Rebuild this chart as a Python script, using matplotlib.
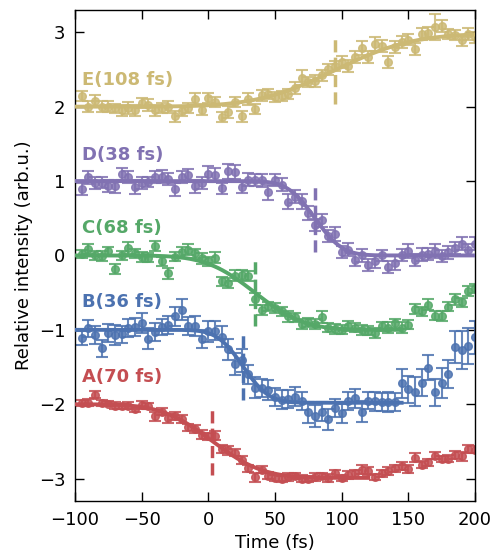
import math

import numpy as np
import matplotlib
matplotlib.use('Agg')
import matplotlib.pyplot as plt

# delay axis (fs)
t = np.arange(-95, 201, 5)

A_y = [-1.98, -1.98, -1.87, -1.98, -1.99, -2.02, -2.03, -2.02, -2.06, -2.01,
       -2.02, -2.16, -2.10, -2.19, -2.16, -2.20, -2.31, -2.33, -2.41, -2.43,
       -2.42, -2.60, -2.62, -2.65, -2.75, -2.86, -2.98, -2.88, -2.96, -2.99,
       -3.00, -2.98, -2.96, -3.00, -3.01, -2.98, -2.97, -2.99, -2.93, -2.99,
       -2.95, -2.93, -2.88, -2.90, -2.98, -2.93, -2.90, -2.86, -2.83, -2.87,
       -2.72, -2.81, -2.78, -2.69, -2.73, -2.73, -2.68, -2.70, -2.60, -2.61]
A_err = [0.04, 0.05, 0.05, 0.04, 0.04, 0.05, 0.04, 0.05, 0.04, 0.05,
         0.04, 0.06, 0.05, 0.06, 0.05, 0.05, 0.05, 0.05, 0.06, 0.05,
         0.06, 0.05, 0.06, 0.05, 0.05, 0.05, 0.06, 0.05, 0.05, 0.04,
         0.04, 0.05, 0.04, 0.05, 0.04, 0.05, 0.04, 0.05, 0.05, 0.04,
         0.05, 0.05, 0.06, 0.05, 0.04, 0.05, 0.05, 0.05, 0.05, 0.05,
         0.06, 0.05, 0.05, 0.05, 0.04, 0.05, 0.05, 0.06, 0.05, 0.05]

B_y = [-1.11, -0.98, -1.07, -1.25, -1.04, -1.07, -1.06, -0.98, -0.96, -0.91,
       -1.12, -1.03, -0.96, -0.93, -0.82, -0.73, -0.95, -0.95, -1.12, -1.02,
       -1.01, -1.09, -1.26, -1.46, -1.41, -1.60, -1.78, -1.78, -1.81, -1.90,
       -1.94, -1.93, -1.90, -1.96, -2.11, -2.16, -2.10, -2.20, -2.05, -2.12,
       -1.96, -1.92, -2.10, -1.95, -1.96, -1.97, -1.97, -1.97, -1.72, -1.80,
       -1.83, -1.71, -1.51, -1.84, -1.71, -1.59, -1.23, -1.27, -1.22, -1.10]
B_err = [0.10, 0.11, 0.12, 0.11, 0.12, 0.13, 0.11, 0.12, 0.12, 0.13,
         0.14, 0.12, 0.11, 0.12, 0.13, 0.14, 0.12, 0.13, 0.12, 0.14,
         0.13, 0.14, 0.14, 0.15, 0.15, 0.13, 0.14, 0.12, 0.13, 0.12,
         0.13, 0.12, 0.13, 0.12, 0.14, 0.15, 0.13, 0.14, 0.12, 0.13,
         0.12, 0.13, 0.14, 0.12, 0.13, 0.12, 0.13, 0.12, 0.20, 0.18,
         0.19, 0.18, 0.17, 0.18, 0.20, 0.19, 0.22, 0.25, 0.24, 0.22]

C_y = [0.02, 0.09, 0.00, -0.01, 0.06, -0.18, 0.00, 0.10, 0.03, -0.02,
       -0.03, 0.13, -0.08, -0.24, -0.02, 0.04, 0.08, 0.03, -0.04, -0.08,
       -0.03, -0.35, -0.37, -0.27, -0.26, -0.28, -0.59, -0.73, -0.68, -0.71,
       -0.75, -0.82, -0.83, -0.92, -0.90, -0.92, -0.83, -0.97, -0.99, -1.00,
       -0.95, -0.97, -1.00, -1.01, -1.04, -0.95, -0.97, -0.91, -0.97, -0.93,
       -0.72, -0.75, -0.66, -0.81, -0.81, -0.69, -0.59, -0.63, -0.48, -0.44]
C_err = [0.06, 0.07, 0.06, 0.07, 0.06, 0.07, 0.06, 0.08, 0.06, 0.07,
         0.06, 0.07, 0.06, 0.07, 0.06, 0.07, 0.07, 0.06, 0.07, 0.06,
         0.07, 0.06, 0.07, 0.08, 0.07, 0.07, 0.08, 0.07, 0.06, 0.07,
         0.06, 0.07, 0.06, 0.07, 0.06, 0.07, 0.08, 0.06, 0.07, 0.06,
         0.07, 0.06, 0.07, 0.06, 0.07, 0.06, 0.07, 0.06, 0.07, 0.06,
         0.07, 0.06, 0.07, 0.06, 0.07, 0.06, 0.07, 0.06, 0.07, 0.06]

D_y = [0.89, 1.05, 0.97, 0.98, 0.93, 0.93, 1.10, 1.06, 0.92, 0.97,
       0.99, 1.06, 1.06, 1.03, 0.89, 1.06, 1.08, 0.93, 0.97, 1.10,
       1.08, 0.90, 1.13, 1.12, 0.92, 1.02, 1.01, 1.01, 0.85, 1.02,
       0.95, 0.72, 0.79, 0.73, 0.57, 0.41, 0.47, 0.26, 0.29, 0.05,
       0.08, -0.06, 0.00, -0.13, -0.08, 0.00, -0.15, -0.10, 0.01, 0.06,
       -0.06, 0.01, 0.02, 0.06, -0.01, 0.04, 0.10, 0.16, 0.08, 0.16]
D_err = [0.08, 0.09, 0.08, 0.07, 0.08, 0.09, 0.08, 0.08, 0.09, 0.08,
         0.07, 0.08, 0.09, 0.08, 0.09, 0.08, 0.08, 0.09, 0.08, 0.10,
         0.09, 0.08, 0.10, 0.09, 0.08, 0.09, 0.08, 0.09, 0.10, 0.08,
         0.09, 0.10, 0.09, 0.10, 0.09, 0.08, 0.09, 0.08, 0.09, 0.08,
         0.09, 0.08, 0.09, 0.08, 0.09, 0.08, 0.08, 0.09, 0.08, 0.09,
         0.08, 0.09, 0.08, 0.09, 0.08, 0.09, 0.08, 0.09, 0.08, 0.09]

E_y = [2.14, 2.00, 2.08, 2.00, 2.00, 1.98, 1.95, 1.98, 1.95, 2.05,
       2.02, 1.95, 1.98, 1.99, 1.87, 1.94, 1.98, 2.10, 1.96, 2.12,
       2.06, 1.86, 1.93, 2.06, 1.87, 2.10, 1.97, 2.15, 2.17, 2.13,
       2.14, 2.17, 2.25, 2.39, 2.33, 2.35, 2.42, 2.50, 2.55, 2.60,
       2.55, 2.67, 2.79, 2.67, 2.84, 2.82, 2.60, 2.80, 2.87, 2.90,
       2.78, 2.98, 2.99, 3.07, 3.09, 2.98, 2.96, 2.89, 2.98, 2.93]
E_err = [0.07, 0.07, 0.08, 0.07, 0.07, 0.06, 0.07, 0.08, 0.07, 0.07,
         0.08, 0.07, 0.07, 0.08, 0.07, 0.07, 0.07, 0.08, 0.07, 0.07,
         0.07, 0.07, 0.08, 0.07, 0.07, 0.08, 0.07, 0.07, 0.07, 0.07,
         0.07, 0.07, 0.08, 0.10, 0.07, 0.08, 0.07, 0.08, 0.07, 0.08,
         0.08, 0.08, 0.09, 0.08, 0.09, 0.08, 0.08, 0.08, 0.08, 0.07,
         0.08, 0.08, 0.08, 0.18, 0.08, 0.07, 0.07, 0.07, 0.08, 0.07]

# fit parameters: baseline, step, time zero, width (fs), end of fit range
names = ['A', 'B', 'C', 'D', 'E']
widths_fs = [70, 36, 68, 38, 108]
baselines = [-2.0, -1.0, 0.0, 1.0, 2.0]
steps = [-0.99, -0.98, -1.0, -1.0, 0.98]
t_zero = [3, 26, 35, 80, 95]
fit_end = [120, 145, 145, 200, 200]
label_y = [-1.64, -0.62, 0.37, 1.35, 2.36]
colors = ['#C44E52', '#4C72B0', '#55A868', '#8172B2', '#CCB974']

data = [(A_y, A_err), (B_y, B_err), (C_y, C_err), (D_y, D_err), (E_y, E_err)]


def step_fit(x, y0, dy, x0, fwhm):
    w = fwhm / (2 * math.sqrt(math.log(2)))
    return np.array([y0 + dy * 0.5 * (1 + math.erf((xi - x0) / w)) for xi in x])


fig = plt.figure(figsize=(4.95, 5.58), dpi=100)
ax = fig.add_axes([0.1515, 0.1022, 0.808, 0.88])

for i, name in enumerate(names):
    y, err = data[i]
    c = colors[i]
    ax.errorbar(t, y, yerr=err, fmt='o', color=c, ms=5.5, elinewidth=1.5,
                capsize=4.5, capthick=1.5, alpha=0.85, zorder=2)
    tf = np.linspace(-100, fit_end[i], 300)
    ax.plot(tf, step_fit(tf, baselines[i], steps[i], t_zero[i], widths_fs[i]),
            color=c, lw=2.8, zorder=3)
    mid = baselines[i] + steps[i] / 2
    ax.plot([t_zero[i], t_zero[i]], [mid - 0.45, mid + 0.45], color=c,
            lw=2.5, dashes=(3.5, 1.5), zorder=4)
    ax.text(-95, label_y[i], '%s(%d fs)' % (name, widths_fs[i]), color=c,
            fontsize=13, fontweight='bold', va='center', ha='left')

ax.set_xlim(-100, 200)
ax.set_ylim(-3.3, 3.3)
ax.set_xticks([-100, -50, 0, 50, 100, 150, 200])
ax.set_yticks([-3, -2, -1, 0, 1, 2, 3])
ax.tick_params(direction='in', length=6.5, width=1, labelsize=13,
               top=True, right=True, pad=7)
for s in ax.spines.values():
    s.set_linewidth(1)
ax.set_xlabel('Time (fs)', fontsize=13)
ax.set_ylabel('Relative intensity (arb.u.)', fontsize=13)

fig.savefig('out.png', dpi=100)
